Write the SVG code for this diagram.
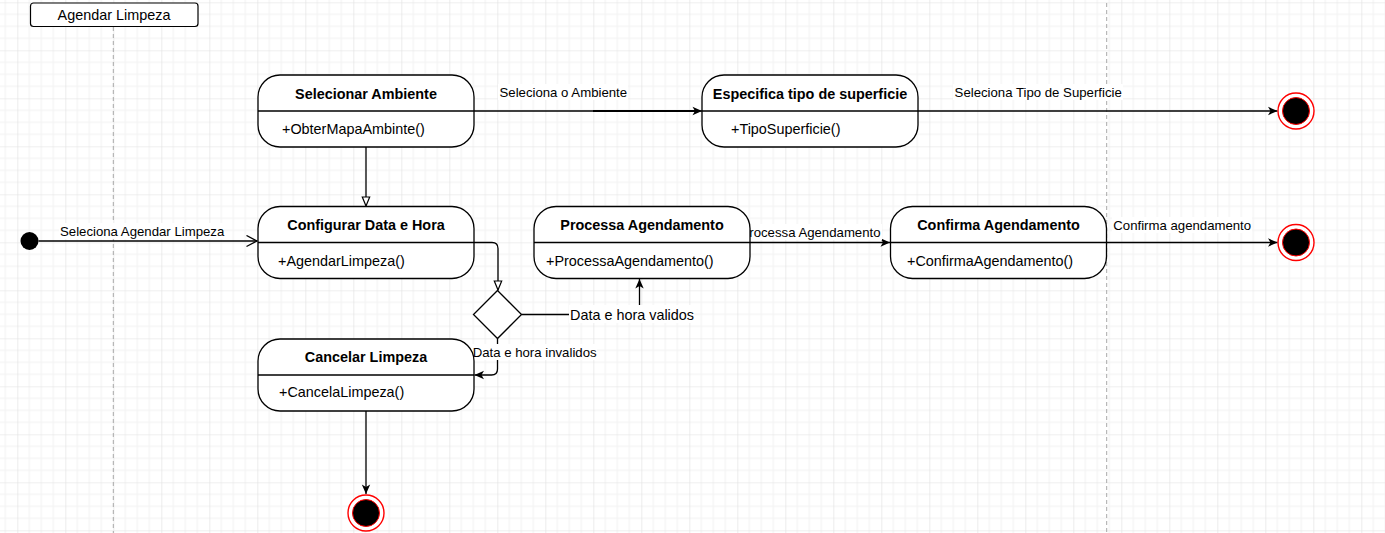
<svg xmlns="http://www.w3.org/2000/svg" width="1385" height="533" viewBox="0 0 1385 533">
<defs>
<pattern id="grid" x="17.33" y="2.33" width="48" height="48" patternUnits="userSpaceOnUse">
<path d="M12,0V48M24,0V48M36,0V48M0,12H48M0,24H48M0,36H48" stroke="#f1f1f1" stroke-width="1" fill="none"/>
<path d="M0,0V48M0,0H48" stroke="#e0e0e0" stroke-width="1.2" fill="none"/>
</pattern>
<marker id="arrow" viewBox="0 0 12 10" refX="10" refY="5" markerWidth="12" markerHeight="10" markerUnits="userSpaceOnUse" orient="auto">
<path d="M0.5,0.8 L10,5 L0.5,9.2 L3,5 Z" fill="#000"/>
</marker>
<marker id="openv" viewBox="0 0 13 13" refX="11.5" refY="6.5" markerWidth="13" markerHeight="13" markerUnits="userSpaceOnUse" orient="auto">
<path d="M1,1 L11.5,6.5 L1,12" fill="none" stroke="#000" stroke-width="1.3"/>
</marker>
<marker id="hollow" viewBox="0 0 11 10" refX="10" refY="5" markerWidth="11" markerHeight="10" markerUnits="userSpaceOnUse" orient="auto">
<path d="M1,1.3 L10,5 L1,8.7 Z" fill="#fff" stroke="#000" stroke-width="1.2"/>
</marker>
</defs>
<style>
.box{fill:#fff;stroke:#000;stroke-width:1.3}
.div{stroke:#000;stroke-width:1.3}
.ttl{font-family:"Liberation Sans",Arial,sans-serif;font-size:14.4px;font-weight:bold;text-anchor:middle;fill:#000}
.mth{font-family:"Liberation Sans",Arial,sans-serif;font-size:14.4px;fill:#000}
.lbl{font-family:"Liberation Sans",Arial,sans-serif;font-size:13.2px;fill:#000}
.lbl2{font-family:"Liberation Sans",Arial,sans-serif;font-size:14.4px;fill:#000}
.bg{fill:#fff}
.edge{fill:none;stroke:#000;stroke-width:1.3}
.lane{stroke:#a8a8a8;stroke-width:1;stroke-dasharray:4 3;fill:none}
.endo{fill:#fff;stroke:#ff0000;stroke-width:1.4}
.endi{fill:#000;stroke:#ff0000;stroke-width:1}
</style>
<rect x="0" y="0" width="1385" height="533" fill="#fff"/>
<rect x="0" y="0" width="1385" height="533" fill="url(#grid)"/>

<g id="lanes">
<line class="lane" x1="113.3" y1="27" x2="113.3" y2="533"/>
<line class="lane" x1="1106.7" y1="3" x2="1106.7" y2="533"/>
</g>

<g id="header">
<rect x="30.5" y="3" width="167.5" height="23.5" rx="3" fill="#fff" stroke="#000" stroke-width="1.2"/>
<text x="114" y="19.5" class="mth" text-anchor="middle">Agendar Limpeza</text>
</g>

<g id="connectors">
<line class="edge" x1="38.5" y1="241" x2="257" y2="241" marker-end="url(#openv)"/>
<line class="edge" x1="474" y1="111" x2="702" y2="111" marker-end="url(#arrow)"/>
<line x1="593" y1="111" x2="696" y2="111" stroke="#000" stroke-width="2"/>
<line class="edge" x1="366" y1="147" x2="366" y2="206" marker-end="url(#hollow)"/>
<line class="edge" x1="918" y1="111" x2="1277.5" y2="111" marker-end="url(#arrow)"/>
<path class="edge" d="M474,242.5 H492 Q498,242.5 498,248.5 V290" marker-end="url(#hollow)"/>
<path class="edge" d="M521.5,314.5 H639.5 V279" marker-end="url(#arrow)"/>
<path class="edge" d="M497.5,338.5 V369 Q497.5,375 491.5,375 H474.5" marker-end="url(#arrow)"/>
<line class="edge" x1="750" y1="242.5" x2="890" y2="242.5" marker-end="url(#arrow)"/>
<line class="edge" x1="1106.5" y1="242.5" x2="1277.5" y2="242.5" marker-end="url(#arrow)"/>
<line class="edge" x1="366" y1="411" x2="366" y2="494" marker-end="url(#arrow)"/>
<rect class="bg" x="498" y="84" width="130" height="16"/>
<text class="lbl" x="499.5" y="97">Seleciona o Ambiente</text>
<rect class="bg" x="953" y="84" width="170" height="16"/>
<text class="lbl" x="954.6" y="97">Seleciona Tipo de Superficie</text>
<rect class="bg" x="59" y="223" width="165" height="16"/>
<text class="lbl" x="60" y="235.5">Seleciona Agendar Limpeza</text>
<rect class="bg" x="751" y="224" width="131" height="16"/>
<text class="lbl" x="749.3" y="236.5">rocessa Agendamento</text>
<rect class="bg" x="1112" y="217" width="140" height="16"/>
<text class="lbl" x="1113.3" y="229.5">Confirma agendamento</text>
<rect class="bg" x="472" y="344" width="125" height="16"/>
<text class="lbl" x="472.7" y="356.5">Data e hora invalidos</text>
<rect class="bg" x="569" y="305" width="125" height="18"/>
<text class="lbl2" x="570" y="319.5">Data e hora validos</text>
</g>

<g id="start">
<circle cx="29.5" cy="241" r="9" fill="#000"/>
</g>

<g id="selecionar-ambiente">
<rect class="box" x="258" y="75" width="216" height="72" rx="22"/>
<line class="div" x1="258" y1="111" x2="474" y2="111"/>
<text class="ttl" x="366" y="98.5">Selecionar Ambiente</text>
<text class="mth" x="282" y="134">+ObterMapaAmbinte()</text>
</g>

<g id="especifica-superficie">
<rect class="box" x="702" y="75" width="216" height="72" rx="22"/>
<line class="div" x1="702" y1="111" x2="918" y2="111"/>
<text class="ttl" x="810" y="98.5">Especifica tipo de superficie</text>
<text class="mth" x="731" y="134">+TipoSuperficie()</text>
</g>

<g id="configurar-data-hora">
<rect class="box" x="258" y="206.5" width="216" height="72" rx="22"/>
<line class="div" x1="258" y1="242.5" x2="474" y2="242.5"/>
<text class="ttl" x="366" y="230">Configurar Data e Hora</text>
<text class="mth" x="278" y="265.7">+AgendarLimpeza()</text>
</g>

<g id="processa-agendamento">
<rect class="box" x="534" y="206.5" width="216" height="72" rx="22"/>
<line class="div" x1="534" y1="242.5" x2="750" y2="242.5"/>
<text class="ttl" x="642" y="230">Processa Agendamento</text>
<text class="mth" x="546" y="265.7">+ProcessaAgendamento()</text>
</g>

<g id="confirma-agendamento">
<rect class="box" x="890.5" y="206.5" width="216" height="72" rx="22"/>
<line class="div" x1="890.5" y1="242.5" x2="1106.5" y2="242.5"/>
<text class="ttl" x="998.5" y="230">Confirma Agendamento</text>
<text class="mth" x="907" y="265.7">+ConfirmaAgendamento()</text>
</g>

<g id="cancelar-limpeza">
<rect class="box" x="258" y="339" width="216" height="72" rx="22"/>
<line class="div" x1="258" y1="375" x2="474" y2="375"/>
<text class="ttl" x="366" y="361.7">Cancelar Limpeza</text>
<text class="mth" x="279" y="397.3">+CancelaLimpeza()</text>
</g>

<g id="decisao">
<path d="M497.5,290.5 L521.5,314.5 L497.5,338.5 L473.5,314.5 Z" fill="#fff" stroke="#000" stroke-width="1.3"/>
</g>

<g id="fim-superficie">
<circle class="endo" cx="1296" cy="111" r="18"/>
<circle class="endi" cx="1296" cy="111" r="13.5"/>
</g>
<g id="fim-confirma">
<circle class="endo" cx="1296" cy="242.5" r="18"/>
<circle class="endi" cx="1296" cy="242.5" r="13.5"/>
</g>
<g id="fim-cancelar">
<circle class="endo" cx="366" cy="513" r="18"/>
<circle class="endi" cx="366" cy="513" r="13.5"/>
</g>
</svg>
